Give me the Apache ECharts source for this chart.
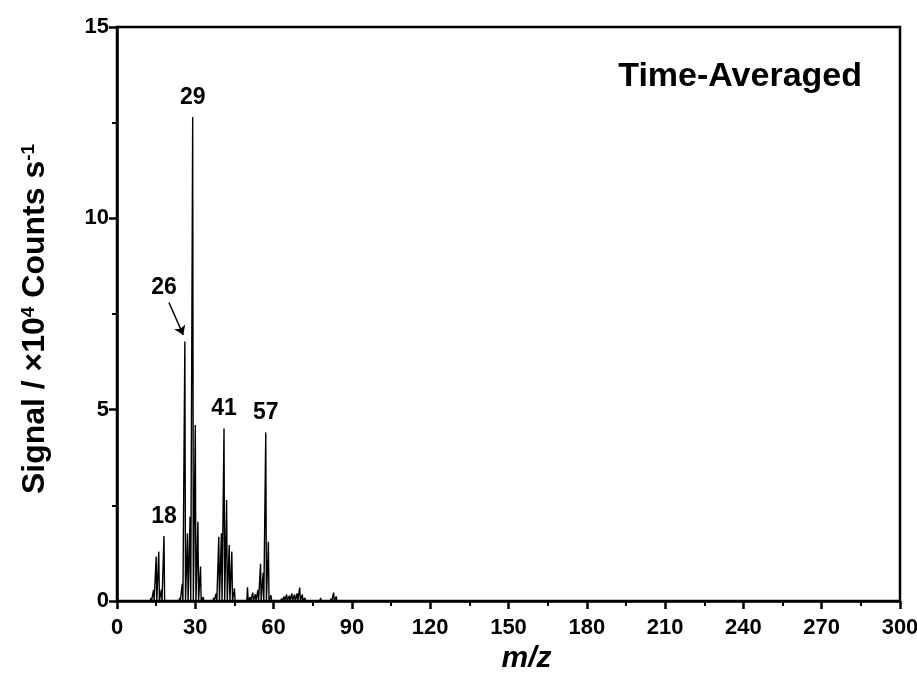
<!DOCTYPE html>
<html>
<head>
<meta charset="utf-8">
<script src="https://cdn.jsdelivr.net/npm/echarts@6/dist/echarts.min.js"></script>
<style>
html,body{margin:0;padding:0;background:#fff;}
#chart{width:917px;height:679px;}
</style>
</head>
<body>
<div id="chart"></div>
<script>
// m/z values of the stick spectrum
const mz = [12,13,14,15,16,17,18,19,
  24,25,26,27,28,29,30,31,32,33,
  37,38,39,40,41,42,43,44,45,46,
  49,50,51,52,53,54,55,56,57,58,59,60,
  62,63,64,65,66,67,68,69,70,71,72,73,74,
  77,78,81,82,83,84,85];
// signal in units of 1e4 counts/s
const signal = [0.04,0.08,0.29,1.16,1.29,0.30,1.70,0.05,
  0.08,0.45,6.78,1.77,2.20,12.65,4.60,2.07,0.90,0.10,
  0.08,0.20,1.68,1.77,4.51,2.64,1.46,1.29,0.33,0.05,
  0.05,0.36,0.10,0.22,0.18,0.29,0.97,0.74,4.40,1.55,0.15,0.05,
  0.04,0.06,0.12,0.17,0.14,0.20,0.17,0.20,0.35,0.17,0.08,0.05,0.03,
  0.05,0.08,0.04,0.06,0.22,0.12,0.04];
// annotated peaks (label drawn above the peak)
const topLabels = [18, 29, 41, 57];
// the 26 peak is annotated with an offset label and an arrow
const offsetLabel = '26';
const offsetLabelPos = [18.0, 8.2];
const arrowFrom = [19.9, 7.8];
const arrowTo = [25.4, 6.95];
const xTicks = {min: 0, max: 300, interval: 30};
const yTicks = {min: 0, max: 15, interval: 5};
const titleText = 'Time-Averaged';

const lineData = [];
mz.forEach((m, i) => {
  lineData.push([m - 0.25, 0]);
  lineData.push([m, signal[i]]);
  lineData.push([m + 0.25, 0]);
});

const font = 'Liberation Sans, Arial, sans-serif';
const chart = echarts.init(document.getElementById('chart'), null, {renderer: 'canvas'});
chart.setOption({
  animation: false,
  backgroundColor: '#fff',
  title: {
    text: titleText, right: 50, top: 55,
    textStyle: {fontFamily: font, fontWeight: 'bold', fontSize: 34, color: '#000'}
  },
  grid: {left: 117, right: 17, top: 27, bottom: 78, show: true, borderColor: '#000', borderWidth: 2.5,
    containLabel: false, outerBoundsMode: 'none'},
  xAxis: {
    type: 'value', min: xTicks.min, max: xTicks.max, interval: xTicks.interval,
    name: 'm/z', nameLocation: 'middle', nameGap: 37,
    nameTextStyle: {fontFamily: font, fontWeight: 'bold', fontStyle: 'italic', fontSize: 30, color: '#000',
      padding: [0, 0, 0, 36]},
    axisLine: {show: true, onZero: false, lineStyle: {color: '#000', width: 2.5}},
    axisTick: {show: true, inside: false, length: 8, lineStyle: {color: '#000', width: 2.5}},
    minorTick: {show: true, splitNumber: 2, length: 5, lineStyle: {color: '#000', width: 2}},
    axisLabel: {fontFamily: font, fontWeight: 'bold', fontSize: 22, color: '#000', margin: 16},
    splitLine: {show: false}
  },
  yAxis: {
    type: 'value', min: yTicks.min, max: yTicks.max, interval: yTicks.interval,
    name: 'Signal / ×10{sup|4} Counts s{sup|-1}', nameLocation: 'middle', nameGap: 66, nameRotate: 90,
    nameTextStyle: {fontFamily: font, fontWeight: 'bold', fontSize: 32, color: '#000', padding: [0, 10, 0, 0],
      rich: {sup: {fontFamily: font, fontWeight: 'bold', fontSize: 19, verticalAlign: 'top', padding: [0,0,12,0], color: '#000'}}},
    axisLine: {show: true, lineStyle: {color: '#000', width: 2.5}},
    axisTick: {show: true, inside: false, length: 8, lineStyle: {color: '#000', width: 2.5}},
    minorTick: {show: true, splitNumber: 2, length: 5, lineStyle: {color: '#000', width: 2}},
    axisLabel: {fontFamily: font, fontWeight: 'bold', fontSize: 22, color: '#000', margin: 8},
    splitLine: {show: false}
  },
  series: [{
    type: 'line',
    data: lineData,
    showSymbol: false,
    symbol: 'none',
    lineStyle: {color: '#000', width: 1.4},
    markPoint: {
      symbol: 'circle', symbolSize: 0,
      label: {show: true, fontFamily: font, fontWeight: 'bold', fontSize: 23, color: '#000'},
      data: topLabels.map(p => ({
        coord: [p, signal[mz.indexOf(p)]], value: String(p),
        label: {position: 'top', distance: 8, formatter: String(p)}
      })).concat([{
        coord: offsetLabelPos, value: offsetLabel,
        label: {position: 'inside', formatter: offsetLabel}
      }])
    },
    markLine: {
      silent: true,
      symbol: ['none', 'arrow'], symbolSize: 9,
      lineStyle: {color: '#000', width: 1.5, type: 'solid'},
      label: {show: false},
      data: [[{coord: arrowFrom}, {coord: arrowTo}]]
    }
  }]
});
</script>
</body>
</html>
